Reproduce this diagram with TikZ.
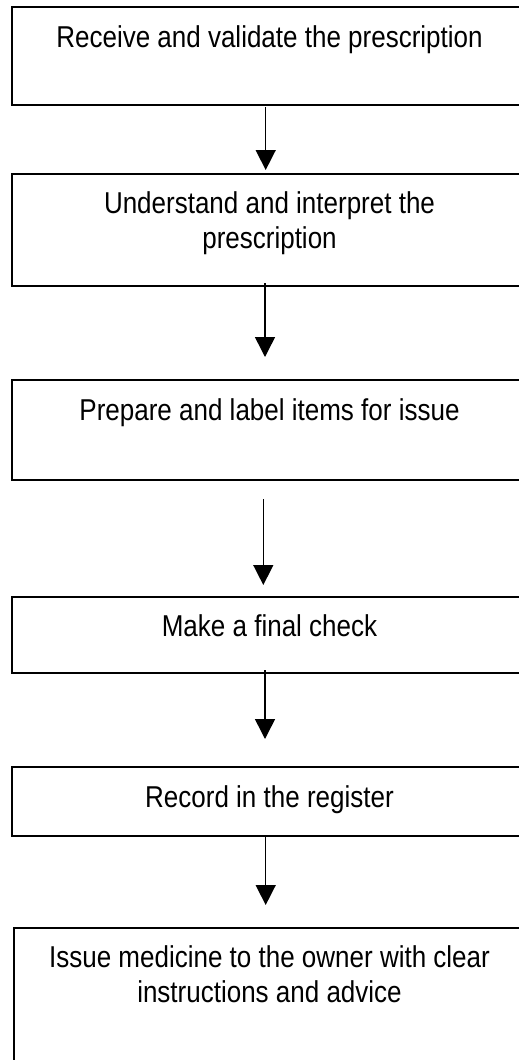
\documentclass[tikz,border=0pt]{standalone}
\usepackage{fontspec}
\setmainfont{Liberation Sans}
\usepackage{tikz}
\usetikzlibrary{arrows.meta}

\begin{document}
\begin{tikzpicture}[x=1pt,y=-1pt]
              \tikzstyle{every node}+=[inner sep=0pt]
              \tikzstyle{stepbox}=[draw=black, line width=1.8pt, rectangle]
              \tikzstyle{steptext}=[anchor=north, align=center, yscale=1.16, transform shape, font=\fontsize{26}{30.2}\selectfont]
              \tikzstyle{flow}=[draw=black, line width=1.5pt, -{Triangle[length=20pt,width=20pt]}]
              \useasboundingbox (0,0) rectangle (519,1060);
              \clip (0,0) rectangle (519,1060);
              \node [stepbox, minimum width=515.3, minimum height=98.3] (receive) at (269.35,55.85) {};
              \node [stepbox, minimum width=515.3, minimum height=111.7] (interpret) at (269.35,229.85) {};
              \node [stepbox, minimum width=515.3, minimum height=100] (prepare) at (269.35,430) {};
              \node [stepbox, minimum width=515.3, minimum height=76.6] (check) at (269.35,635) {};
              \node [stepbox, minimum width=515.3, minimum height=69] (record) at (269.35,801.2) {};
              \node [stepbox, minimum width=511, minimum height=147.3] (issue) at (269.5,1001.35) {};
              \node [steptext] (receivetxt) at (269.5,25.1) {Receive and validate the prescription};
              \node [steptext] (interprettxt) at (269.5,191.7) {Understand and interpret the\\prescription};
              \node [steptext] (preparetxt) at (269.5,398.4) {Prepare and label items for issue};
              \node [steptext] (checktxt) at (269.5,614.4) {Make a final check};
              \node [steptext] (recordtxt) at (269.5,785.1) {Record in the register};
              \node [steptext] (issuetxt) at (269.5,945.1) {Issue medicine to the owner with clear\\instructions and advice};
              \coordinate (receiveout) at (265.7,107);
              \coordinate (interpretin) at (265.7,170);
              \coordinate (interpretout) at (265,283);
              \coordinate (preparein) at (265,357);
              \coordinate (prepareout) at (263.3,499);
              \coordinate (checkin) at (263.3,585);
              \coordinate (checkout) at (265,670);
              \coordinate (recordin) at (265,739);
              \coordinate (recordout) at (265.7,836);
              \coordinate (issuein) at (265.7,905);
              \draw [flow] (receiveout) -- (interpretin);
              \draw [flow] (interpretout) -- (preparein);
              \draw [flow] (prepareout) -- (checkin);
              \draw [flow] (checkout) -- (recordin);
              \draw [flow] (recordout) -- (issuein);
            \end{tikzpicture}
\end{document}
